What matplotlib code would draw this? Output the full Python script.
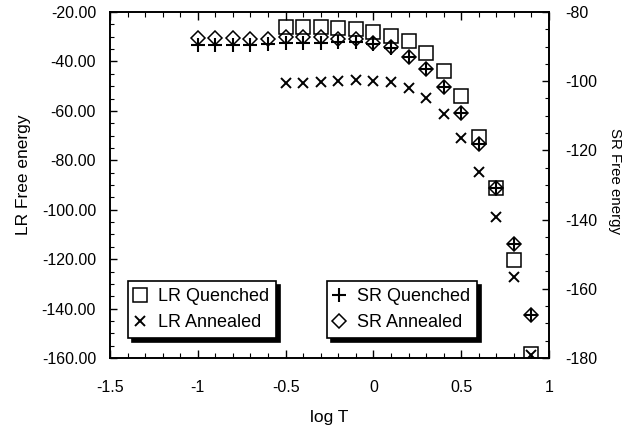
import matplotlib
matplotlib.use("Agg")
import matplotlib.pyplot as plt
from matplotlib.ticker import MultipleLocator, FormatStrFormatter

plt.rcParams['font.family'] = ['Liberation Sans', 'DejaVu Sans']

# ---- data ----
x_lr = [-0.5, -0.4, -0.3, -0.2, -0.1, 0.0, 0.1, 0.2, 0.3, 0.4, 0.5, 0.6, 0.7, 0.8, 0.9]
lr_quenched = [-26.1, -26.1, -26.1, -26.6, -26.9, -28.0, -29.6, -31.7, -36.5, -43.7,
               -54.0, -70.5, -91.3, -120.5, -158.4]
lr_annealed = [-48.8, -48.8, -48.2, -47.8, -47.5, -47.8, -48.4, -50.6, -54.9, -61.3,
               -71.1, -84.6, -103.0, -127.1, -158.8]

x_sr = [-1.0, -0.9, -0.8, -0.7, -0.6, -0.5, -0.4, -0.3, -0.2, -0.1,
        0.0, 0.1, 0.2, 0.3, 0.4, 0.5, 0.6, 0.7, 0.8, 0.9]
sr_quenched = [-89.5, -89.5, -89.4, -89.4, -89.3, -89.1, -89.0, -88.9, -88.8, -88.7,
               -89.2, -90.4, -92.9, -96.6, -101.6, -109.1, -118.2, -131.0, -147.0, -167.6]
sr_annealed = [-87.6, -87.5, -87.6, -87.7, -87.7, -87.3, -87.1, -87.3, -87.9, -87.9,
               -89.0, -90.0, -92.9, -96.6, -101.6, -109.1, -118.2, -131.0, -147.0, -167.6]

xlim = (-1.5, 1.0)
lr_lim = (-160, -20)
sr_lim = (-180, -80)

# ---- figure ----
fig = plt.figure(figsize=(6.41, 4.30), dpi=100)
ax = fig.add_axes([110/641, 1 - 358/430, 439/641, 346/430])
ax2 = ax.twinx()

mk = dict(linestyle='none', color='black', markerfacecolor='none', markeredgecolor='black')
h1, = ax.plot(x_lr, lr_quenched, marker='s', markersize=9.5, markeredgewidth=1.1,
              label='LR Quenched', **mk)
h2, = ax.plot(x_lr, lr_annealed, marker='x', markersize=7, markeredgewidth=1.4,
              label='LR Annealed', **mk)
h3, = ax2.plot(x_sr, sr_quenched, marker='+', markersize=10, markeredgewidth=1.5,
               label='SR Quenched', **mk)
h4, = ax2.plot(x_sr, sr_annealed, marker='D', markersize=7, markeredgewidth=1.1,
               label='SR Annealed', **mk)

ax.set_xlim(*xlim)
ax.set_ylim(*lr_lim)
ax2.set_ylim(*sr_lim)

ax.xaxis.set_major_locator(MultipleLocator(0.5))
ax.xaxis.set_minor_locator(MultipleLocator(0.1))
ax.yaxis.set_major_locator(MultipleLocator(20))
ax.yaxis.set_minor_locator(MultipleLocator(5))
ax.yaxis.set_major_formatter(FormatStrFormatter('%.2f'))
ax2.yaxis.set_major_locator(MultipleLocator(20))
ax2.yaxis.set_minor_locator(MultipleLocator(5))
ax2.yaxis.set_major_formatter(FormatStrFormatter('%d'))
ax.xaxis.set_major_formatter(matplotlib.ticker.FuncFormatter(
    lambda v, p: '0' if abs(v) < 1e-9 else ('%g' % v)))

ax.tick_params(axis='x', which='both', direction='in', top=True, bottom=True,
               labelsize=11.5, pad=16)
ax.tick_params(axis='x', which='major', length=6, width=1)
ax.tick_params(axis='x', which='minor', length=3.5, width=0.8)
ax.tick_params(axis='y', which='both', direction='in', left=True, right=False,
               labelsize=11.5, pad=10)
ax.tick_params(axis='y', which='major', length=5, width=1)
ax.tick_params(axis='y', which='minor', length=3, width=0.8)
ax2.tick_params(axis='y', which='both', direction='in', right=True, left=False,
                labelsize=11.5, pad=11.5)
ax2.tick_params(axis='y', which='major', length=5, width=1)
ax2.tick_params(axis='y', which='minor', length=3, width=0.8)

for a in (ax, ax2):
    for s in a.spines.values():
        s.set_linewidth(1.2)

ax.set_xlabel('log T', fontsize=12.5)
ax.xaxis.set_label_coords(0.5, -0.150)
ax.set_ylabel('LR Free energy', fontsize=12.5)
ax.yaxis.set_label_coords(-0.18, 0.529)
ax2.set_ylabel('SR Free energy', fontsize=10.8, rotation=270, va='center')
ax2.yaxis.set_label_coords(1.1503, 0.512)

shadow = {'ox': 3, 'oy': -3, 'color': 'black', 'alpha': 1}
leg_kw = dict(loc='lower left', borderaxespad=0, fancybox=False, edgecolor='black',
              framealpha=1, fontsize=13, numpoints=1, handlelength=0.6,
              handletextpad=0.68, labelspacing=0.5, borderpad=0.38, shadow=shadow)
leg1 = ax2.legend(handles=[h1, h2], bbox_to_anchor=(0.041, 0.058), **leg_kw)
leg1.get_frame().set_linewidth(1.2)
ax2.add_artist(leg1)
leg2 = ax2.legend(handles=[h3, h4], bbox_to_anchor=(0.494, 0.058), **leg_kw)
leg2.get_frame().set_linewidth(1.2)

fig.savefig('out.png', dpi=100)
